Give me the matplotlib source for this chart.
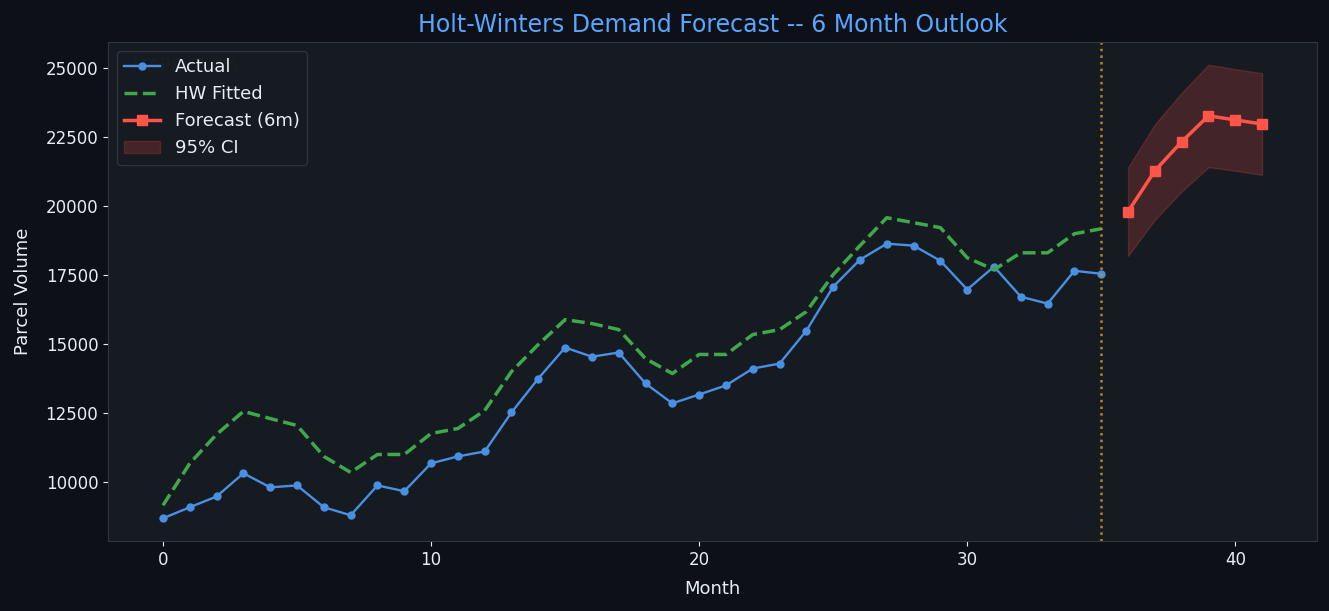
import numpy as np
import matplotlib
matplotlib.use("Agg")
import matplotlib.pyplot as plt

# データ
actual = [8700, 9100, 9490, 10330, 9820, 9890, 9100, 8810, 9890, 9680,
          10690, 10940, 11120, 12530, 13760, 14880, 14550, 14700, 13580, 12860,
          13180, 13510, 14120, 14300, 15490, 17080, 18060, 18640, 18570, 18020,
          16980, 17810, 16720, 16470, 17660, 17550]
fitted = [9170, 10690, 11740, 12570, 12310, 12060, 10940, 10360, 11010, 11010,
          11770, 11950, 12600, 14010, 14990, 15890, 15750, 15530, 14480, 13940,
          14630, 14630, 15350, 15530, 16180, 17520, 18570, 19580, 19400, 19220,
          18130, 17700, 18310, 18310, 19000, 19180]
forecast = [19800, 21280, 22330, 23270, 23120, 22970]
ci_upper = [21400, 22960, 24100, 25120, 24960, 24810]
ci_lower = [18200, 19500, 20530, 21410, 21280, 21130]
mape = 7.3

months = np.arange(len(actual))
fc_months = np.arange(len(actual), len(actual) + len(forecast))

BG = "#0d1117"
AX = "#161b22"
TXT = "#e6edf3"

fig = plt.figure(figsize=(13.29, 6.11), dpi=100, facecolor=BG)
ax = fig.add_axes([0.0813, 0.1146, 0.9097, 0.8167])
ax.set_facecolor(AX)

ax.plot(months, actual, color="#4a90e2", marker="o", markersize=5, linewidth=1.7, label="Actual")
ax.plot(months, fitted, color="#3fa84a", linestyle="--", linewidth=2.5, label="HW Fitted")
ax.plot(fc_months, forecast, color="#ff5548", marker="s", markersize=7, linewidth=2.5, label="Forecast (6m)")
ax.fill_between(fc_months, ci_lower, ci_upper, color="#f85149", alpha=0.2, label="95% CI")
ax.axvline(months[-1], color="#c8901a", linestyle=":", linewidth=1.8, alpha=0.9)

ax.text(0.02, 0.97, f"MAPE: {mape}%", transform=ax.transAxes, color="#3fb950",
        alpha=0.35, fontsize=13, va="top", ha="left", zorder=1)

ax.set_title("Holt-Winters Demand Forecast -- 6 Month Outlook", color="#58a6ff", fontsize=17, pad=7)
ax.set_xlabel("Month", color=TXT, fontsize=13, labelpad=8)
ax.set_ylabel("Parcel Volume", color=TXT, fontsize=13, labelpad=10)
ax.tick_params(colors=TXT, labelsize=12)
for s in ax.spines.values():
    s.set_color("#30363d")

leg = ax.legend(loc="upper left", fontsize=13, facecolor=AX, edgecolor="#30363d",
                labelcolor=TXT, framealpha=0.9)
leg.set_zorder(5)

fig.savefig("out.png", dpi=100, facecolor=BG)
